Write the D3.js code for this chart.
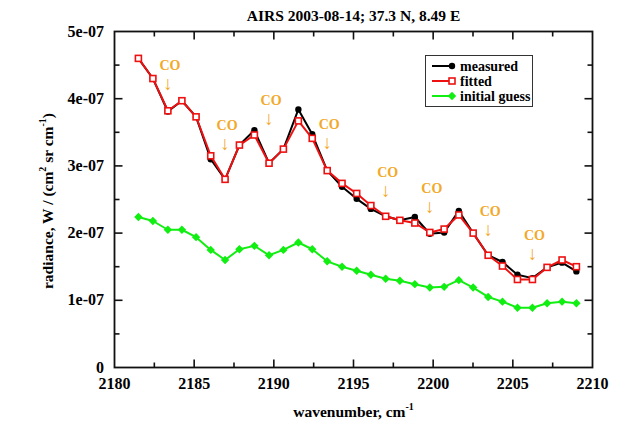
<!DOCTYPE html>
<html>
<head>
<meta charset="utf-8">
<script src="https://cdn.jsdelivr.net/npm/d3@7"></script>
<style>
  html, body { margin: 0; padding: 0; background: #fff; }
  svg { display: block; }
</style>
</head>
<body>
<svg id="chart" width="625" height="424" font-family="'Liberation Serif', 'Times New Roman', 'DejaVu Serif', serif" font-weight="bold"></svg>
<script>
// AIRS channel wavenumbers (cm^-1)
const wavenumber = [2181.50, 2182.41, 2183.35, 2184.23, 2185.12, 2186.04, 2186.94, 2187.84,
  2188.78, 2189.70, 2190.60, 2191.54, 2192.41, 2193.35, 2194.28, 2195.20, 2196.09, 2197.02,
  2197.91, 2198.85, 2199.79, 2200.69, 2201.61, 2202.51, 2203.45, 2204.35, 2205.29, 2206.23,
  2207.15, 2208.09, 2208.99];

// radiance, W / (cm^2 sr cm^-1)
const measured = [4.60e-7, 4.30e-7, 3.81e-7, 3.97e-7, 3.73e-7, 3.10e-7, 2.80e-7, 3.31e-7,
  3.53e-7, 3.04e-7, 3.25e-7, 3.84e-7, 3.47e-7, 2.93e-7, 2.69e-7, 2.51e-7, 2.36e-7, 2.25e-7,
  2.19e-7, 2.24e-7, 1.99e-7, 2.01e-7, 2.33e-7, 2.00e-7, 1.67e-7, 1.57e-7, 1.38e-7, 1.33e-7,
  1.49e-7, 1.56e-7, 1.43e-7];

const fitted = [4.60e-7, 4.30e-7, 3.82e-7, 3.97e-7, 3.73e-7, 3.15e-7, 2.80e-7, 3.31e-7,
  3.46e-7, 3.04e-7, 3.25e-7, 3.67e-7, 3.41e-7, 2.93e-7, 2.74e-7, 2.59e-7, 2.41e-7, 2.25e-7,
  2.19e-7, 2.15e-7, 2.01e-7, 2.06e-7, 2.27e-7, 2.00e-7, 1.67e-7, 1.51e-7, 1.31e-7, 1.31e-7,
  1.49e-7, 1.60e-7, 1.50e-7];

const initialGuess = [2.24e-7, 2.18e-7, 2.05e-7, 2.05e-7, 1.94e-7, 1.75e-7, 1.60e-7, 1.76e-7,
  1.81e-7, 1.67e-7, 1.75e-7, 1.86e-7, 1.76e-7, 1.58e-7, 1.50e-7, 1.44e-7, 1.38e-7, 1.32e-7,
  1.29e-7, 1.24e-7, 1.19e-7, 1.20e-7, 1.30e-7, 1.19e-7, 1.05e-7, 0.98e-7, 0.89e-7, 0.89e-7,
  0.955e-7, 0.98e-7, 0.955e-7];

// CO absorption markers: channel wavenumber and label height (radiance units)
const coWavenumber = [2183.35, 2186.94, 2189.70, 2193.35, 2197.02, 2199.79, 2203.45, 2206.23];
const coLabelLevel = [4.43e-7, 3.54e-7, 3.91e-7, 3.55e-7, 2.83e-7, 2.60e-7, 2.25e-7, 1.89e-7];

const xTicks = [2180, 2185, 2190, 2195, 2200, 2205, 2210];
const yTicks = [0, 1e-7, 2e-7, 3e-7, 4e-7, 5e-7];

const seriesNames = ["measured", "fitted", "initial guess"];
const seriesColors = ["#000000", "#ee1111", "#11ee11"];

const svg = d3.select("#chart");
const m = { left: 114.5, right: 592.5, top: 31.5, bottom: 367.5 };

const x = d3.scaleLinear().domain([2180, 2210]).range([m.left, m.right]);
const y = d3.scaleLinear().domain([0, 5e-7]).range([m.bottom, m.top]);

const yFmt = v => v === 0 ? "0" : Math.round(v / 1e-7) + "e-07";

// frame
svg.append("rect")
  .attr("x", m.left).attr("y", m.top)
  .attr("width", m.right - m.left).attr("height", m.bottom - m.top)
  .attr("fill", "none").attr("stroke", "#111").attr("stroke-width", 1.8);

// inward ticks on all four sides
const xMinor = d3.range(2182.5, 2210, 5);
const yMinor = d3.range(0.5e-7, 5e-7, 1e-7);
const majLen = 8, minLen = 5;
const tickG = svg.append("g").attr("stroke", "#111").attr("stroke-width", 1.6);
function xTickLines(vals, len) {
  vals.forEach(v => {
    tickG.append("line").attr("x1", x(v)).attr("x2", x(v)).attr("y1", m.bottom).attr("y2", m.bottom - len);
    tickG.append("line").attr("x1", x(v)).attr("x2", x(v)).attr("y1", m.top).attr("y2", m.top + len);
  });
}
function yTickLines(vals, len) {
  vals.forEach(v => {
    tickG.append("line").attr("y1", y(v)).attr("y2", y(v)).attr("x1", m.left).attr("x2", m.left + len);
    tickG.append("line").attr("y1", y(v)).attr("y2", y(v)).attr("x1", m.right).attr("x2", m.right - len);
  });
}
xTickLines(xTicks.slice(1, -1), majLen);
xTickLines(xMinor, minLen);
yTickLines(yTicks.slice(1, -1), majLen);
yTickLines(yMinor, minLen);

// tick labels
svg.append("g").selectAll("text").data(xTicks).join("text")
  .attr("x", d => x(d)).attr("y", 389)
  .attr("text-anchor", "middle").attr("font-size", 16)
  .text(d => d);

svg.append("g").selectAll("text").data(yTicks).join("text")
  .attr("x", 104).attr("y", d => y(d) + 5)
  .attr("text-anchor", "end").attr("font-size", 16)
  .text(yFmt);

// title
svg.append("text")
  .attr("x", (m.left + m.right) / 2).attr("y", 21)
  .attr("text-anchor", "middle").attr("font-size", 15.5)
  .text("AIRS 2003-08-14; 37.3 N, 8.49 E");

// axis titles
const xl = svg.append("text")
  .attr("x", (m.left + m.right) / 2).attr("y", 417)
  .attr("text-anchor", "middle").attr("font-size", 15.5);
xl.append("tspan").text("wavenumber, cm");
xl.append("tspan").attr("dy", -7).attr("font-size", 10).text("-1");

const yl = svg.append("text")
  .attr("transform", "translate(53,201) rotate(-90)")
  .attr("text-anchor", "middle").attr("font-size", 15.5);
yl.append("tspan").text("radiance, W / (cm");
yl.append("tspan").attr("dy", -7).attr("font-size", 10).text("2");
yl.append("tspan").attr("dy", 7).text(" sr cm");
yl.append("tspan").attr("dy", -7).attr("font-size", 10).text("-1");
yl.append("tspan").attr("dy", 7).text(")");

// CO annotations
const coG = svg.append("g").attr("fill", "#f2a92a");
coWavenumber.forEach((w, i) => {
  const cx = x(w), cy = y(coLabelLevel[i]);
  coG.append("text").attr("x", cx + 2).attr("y", cy)
    .attr("text-anchor", "middle").attr("font-size", 14).text("CO");
  coG.append("text").attr("x", cx).attr("y", cy + 20)
    .attr("text-anchor", "middle").attr("font-size", 19).attr("font-weight", "normal")
    .text("\u2193");
});

// series
const line = d3.line().x((d, i) => x(wavenumber[i])).y(d => y(d));

function drawSeries(values, color, symbol) {
  const g = svg.append("g");
  g.append("path").datum(values)
    .attr("d", line).attr("fill", "none")
    .attr("stroke", color).attr("stroke-width", 2).attr("stroke-linejoin", "round");
  values.forEach((v, i) => drawSymbol(g, symbol, x(wavenumber[i]), y(v), color));
}

function drawSymbol(g, symbol, cx, cy, color) {
  if (symbol === "circle") {
    g.append("circle").attr("cx", cx).attr("cy", cy).attr("r", 3.2).attr("fill", color);
  } else if (symbol === "square") {
    g.append("rect").attr("x", cx - 3).attr("y", cy - 3).attr("width", 6).attr("height", 6)
      .attr("fill", "#fff").attr("stroke", color).attr("stroke-width", 1.6);
  } else {
    g.append("path").attr("transform", `translate(${cx},${cy})`)
      .attr("d", "M0,-4.2L4.2,0L0,4.2L-4.2,0Z").attr("fill", color);
  }
}

drawSeries(initialGuess, seriesColors[2], "diamond");
drawSeries(measured, seriesColors[0], "circle");
drawSeries(fitted, seriesColors[1], "square");

// legend
const lg = svg.append("g");
lg.append("rect").attr("x", 425.5).attr("y", 55.5).attr("width", 107).attr("height", 51)
  .attr("fill", "#fff").attr("stroke", "#333").attr("stroke-width", 1);
const symbols = ["circle", "square", "diamond"];
seriesNames.forEach((name, i) => {
  const ry = 66 + i * 15;
  lg.append("line").attr("x1", 432).attr("x2", 452).attr("y1", ry).attr("y2", ry)
    .attr("stroke", seriesColors[i]).attr("stroke-width", 2);
  drawSymbol(lg, symbols[i], 452, ry, seriesColors[i]);
  lg.append("text").attr("x", 460).attr("y", ry + 4.5).attr("font-size", 14).text(name);
});
</script>
</body>
</html>
